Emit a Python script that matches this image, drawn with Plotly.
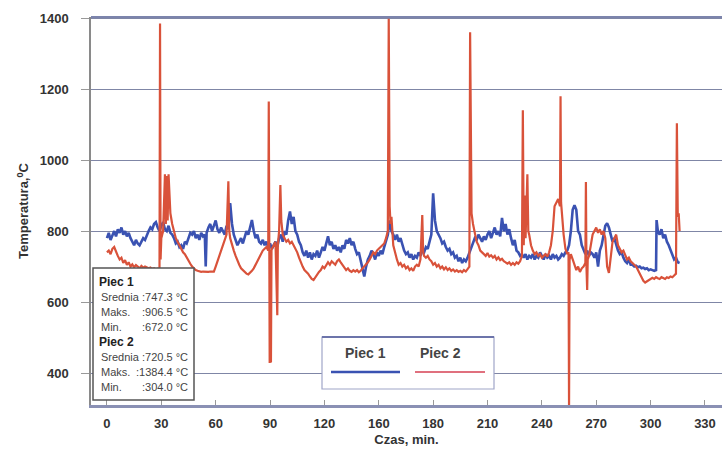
import plotly.graph_objects as go

# ---------------- data ----------------
p1_t = list(range(0, 55)) + [54.5] + list(range(55, 304)) + [303.3] + list(range(304, 317))
p1_t = sorted(p1_t)
p1_v = [780, 795, 775, 790, 800, 785, 805, 795, 810, 790, 800, 785, 795, 780, 770, 760, 775, 765, 760, 770,
        780, 775, 790, 800, 810, 805, 820, 825, 810, 800, 815, 825, 805, 800, 815, 795, 790, 780, 765, 770,
        755, 760, 750, 770, 765, 780, 795, 790, 800, 780, 790, 775, 795, 785, 790, 700, 795, 810, 820, 800,
        815, 830, 805, 795, 810, 800, 790, 815, 805, 879, 820, 790, 775, 760, 770, 780, 765, 785, 800, 790,
        810, 831, 800, 780, 790, 770, 765, 775, 760, 770, 755, 765, 750, 760, 770, 755, 780, 790, 770, 800,
        790, 830, 855, 820, 840, 800, 790, 770, 760, 740, 730, 745, 725, 740, 720, 735, 730, 745, 725, 740,
        755, 745, 770, 785, 760, 770, 750, 760, 745, 755, 740, 760, 750, 775, 765, 780, 760, 770, 750, 735,
        740, 720, 700, 672, 700, 720, 730, 745, 735, 720, 740, 730, 745, 735, 755, 770, 790, 830, 800, 790,
        775, 790, 770, 780, 760, 745, 735, 740, 725, 735, 720, 730, 725, 740, 730, 745, 740, 755, 750, 770,
        790, 906.5, 830, 800, 790, 780, 765, 770, 755, 745, 750, 735, 740, 725, 730, 715, 725, 710, 720, 715,
        725, 740, 755, 770, 780, 775, 790, 780, 770, 785, 775, 790, 800, 780, 795, 810, 790, 800, 785, 837,
        800, 820, 790, 805, 780, 760, 775, 745, 740, 730, 735, 725, 735, 720, 730, 725, 735, 720, 730, 725,
        740, 730, 720, 735, 725, 730, 720, 735, 725, 730, 720, 725, 735, 730, 740, 745, 760, 800, 860, 873,
        860, 800, 790, 760, 745, 735, 745, 730, 740, 735, 725, 740, 700, 745, 760, 790, 815, 822, 810, 790,
        770, 780, 760, 745, 735, 740, 725, 715, 710, 720, 705, 705, 700, 702, 698, 700, 695, 697, 693, 695,
        690, 692, 690, 688, 690, 831, 800, 790, 805, 780, 790, 770, 760, 745, 735, 720, 725, 712, 710]

p2_t = [0, 1, 2, 3, 4, 5, 6, 7, 8, 9, 10, 11, 12, 13, 14, 15, 16, 17, 18, 19, 20, 21, 22, 23, 24, 25, 26, 27, 28, 29,
        29.3, 29.6, 30, 31, 32, 32.5, 33, 33.5, 34, 35, 36, 37, 38, 39, 40, 41, 42, 43, 44, 45, 46, 47, 48, 49, 50,
        51, 52, 53, 54, 55, 56, 57, 58, 59, 60, 61, 62, 63, 64, 65, 66, 67, 67.5, 68, 69, 70, 71, 72, 73, 74, 75,
        76, 77, 78, 79, 80, 81, 82, 83, 84, 85, 86, 87, 88, 89, 89.3, 89.6, 89.8, 90.1, 90.5, 90.8, 91, 92, 93,
        94, 94.3, 95, 95.7, 96.2, 97, 98, 99, 100, 101, 102, 103, 104, 105, 106, 107, 108, 109, 110, 111, 112, 113,
        114, 115, 116, 117, 118, 119, 120, 121, 122, 123, 124, 125, 126, 127, 128, 129, 130, 131, 132, 133, 134,
        135, 136, 137, 138, 139, 140, 141, 142, 143, 144, 145, 146, 147, 148, 149, 150, 151, 152, 153, 154, 155,
        155.5, 156, 156.5, 157, 158, 159, 160, 161, 162, 163, 164, 165, 166, 167, 168, 169, 170, 171, 172, 173,
        174, 174.5, 175, 176, 177, 178, 179, 180, 181, 182, 183, 184, 185, 186, 187, 188, 189, 190, 191, 192, 193,
        194, 195, 196, 197, 198, 199, 200, 200.4, 200.8, 201.2, 202, 203, 204, 205, 206, 207, 208, 209, 210, 211,
        212, 213, 214, 215, 216, 217, 218, 219, 220, 221, 222, 223, 224, 225, 226, 227, 228, 229, 229.5, 230,
        230.5, 231, 232, 232.5, 233, 234, 235, 236, 237, 238, 239, 240, 241, 242, 243, 244, 245, 246, 247, 248,
        249, 250, 250.3, 250.6, 251, 252, 253, 254, 254.7, 255, 255.3, 256, 257, 258, 259, 260, 261, 262, 263,
        264, 264.3, 264.6, 265, 265.3, 266, 267, 268, 269, 270, 271, 272, 273, 274, 275, 276, 277, 278, 279, 280,
        281, 282, 283, 284, 285, 286, 287, 288, 289, 290, 291, 292, 293, 294, 295, 296, 297, 298, 299, 300, 301,
        302, 303, 304, 305, 306, 307, 308, 309, 310, 311, 312, 313, 314, 314.5, 315, 315.5, 316]
p2_v = [740, 745, 735, 750, 755, 740, 730, 720, 725, 710, 718, 705, 712, 700, 706, 698, 704, 700, 695, 702, 697,
        700, 698, 695, 697, 693, 695, 692, 694, 693,
        1384.4, 720, 780, 800, 960, 820, 955, 830, 960, 850, 820, 800, 780, 770, 760, 750, 740, 735, 725, 715,
        708, 700, 695, 690, 688, 686, 685, 686, 685, 684, 685, 686, 685, 686, 700, 715, 730, 745, 760, 775, 790,
        940, 800, 780, 760, 745, 730, 715, 705, 695, 690, 685, 680, 678, 682, 688, 695, 705, 715, 725, 735, 745,
        750, 755, 745, 1165, 750, 428, 740, 430, 745, 750, 760, 770,
        563, 760, 800, 930, 830, 790, 780, 770, 775, 765, 770, 760, 750, 740, 725, 710, 700, 690, 685, 680, 672,
        665, 662, 670, 678, 685, 690, 700, 695, 705, 712, 705, 715, 710, 705, 715, 720, 712, 705, 700, 690, 695,
        688, 685, 690, 686, 690, 684, 688, 695, 700, 705, 712, 720, 730, 740, 735, 745, 750, 755, 760, 765, 780,
        800, 1398, 870, 820, 840, 760, 735, 720, 705, 710, 700, 705, 695, 700, 690, 695, 688, 700, 705, 700, 720,
        845, 740, 730, 725, 730, 720, 715, 705, 710, 700, 705, 695, 700, 692, 698, 690, 695, 688, 692, 686, 690,
        685, 688, 684, 690, 686, 692, 700, 1360, 960, 850, 820, 790, 770, 760, 745, 740, 735, 730, 738, 728,
        732, 725, 730, 720, 726, 718, 722, 715, 712, 708, 712, 705, 710, 705, 712, 708, 715, 730, 1140, 760,
        900, 780, 960, 800, 790, 760, 745, 735, 740, 730, 735, 725, 730, 735, 728, 740, 760, 800, 870, 880,
        890, 870, 1180, 880, 850, 790, 750, 735, 740, 304, 720, 735, 720, 705, 690, 700, 685, 695, 700,
        710, 938, 700, 634, 720, 730, 760, 790, 800, 810, 795, 805, 790, 800, 780, 700, 682, 720, 770, 780,
        790, 760, 750, 740, 745, 730, 720, 725, 715, 710, 705, 700, 690, 680, 670, 660, 655, 658, 662, 665, 668,
        665, 670, 667, 665, 670, 668, 665, 670, 668, 672, 670, 675, 680, 1104, 840, 850, 800]

x_tickvals = [0, 30, 60, 90, 120, 150, 180, 210, 240, 270, 300, 330]
x_ticktext = ["0", "30", "60", "90", "120", "160", "180", "210", "240", "270", "300", "330"]
y_tickvals = [400, 600, 800, 1000, 1200, 1400]

series_names = ["Piec 1", "Piec 2"]
stats_labels = ["Srednia", "Maks.", "Min."]
stats_p1 = [":747.3 \u00b0C", ":906.5 \u00b0C", ":672.0 \u00b0C"]
stats_p2 = [":720.5 \u00b0C", ":1384.4 \u00b0C", ":304.0 \u00b0C"]

BLUE = "#3a52b2"
RED = "#d9523a"

# ---------------- layout helpers ----------------
W, H = 722, 452
ML, MR, MT, MB = 91, 0, 17, 47
PW, PH = W - ML - MR, H - MT - MB


def px(x):
    return (x - ML) / PW


def py(y):
    return (H - MB - y) / PH


fig = go.Figure()
fig.add_trace(go.Scatter(x=p1_t, y=p1_v, mode="lines", name=series_names[0],
                         line=dict(color=BLUE, width=2.6), showlegend=False))
fig.add_trace(go.Scatter(x=p2_t, y=p2_v, mode="lines", name=series_names[1],
                         line=dict(color=RED, width=2.2), showlegend=False))

font_main = "Liberation Sans, Arial, sans-serif"
font_narrow = "Liberation Sans Narrow, Arial Narrow, Liberation Sans, sans-serif"

fig.update_layout(
    width=W, height=H,
    margin=dict(l=ML, r=MR, t=MT, b=MB, pad=0),
    paper_bgcolor="white", plot_bgcolor="white",
    font=dict(family=font_main, color="#333333"),
    xaxis=dict(range=[-8.8, 339.4], tickvals=x_tickvals, ticktext=x_ticktext,
               showgrid=False, zeroline=False, showline=True, linecolor="#8a90b4", linewidth=3,
               ticks="inside", ticklen=5, tickcolor="#999999", tickwidth=1,
               tickfont=dict(size=13, family=font_main, color="#333333", weight="bold"),
               ticklabelstandoff=4,
               title=dict(text="Czas, min.", font=dict(size=13, color="#333333", weight="bold"), standoff=6)),
    yaxis=dict(range=[310, 1403], tickvals=y_tickvals,
               showgrid=True, gridcolor="#7f86a6", gridwidth=1.2, zeroline=False,
               showline=True, linecolor="#8a8a8a", linewidth=1.5,
               ticks="outside", ticklen=8, tickcolor="#999999", tickwidth=1,
               tickfont=dict(size=13, family=font_main, color="#333333", weight="bold"),
               ticklabelstandoff=10,
               title=dict(text="Temperatura,<sup>0</sup>C", font=dict(size=13, color="#333333", weight="bold"),
                          standoff=8)),
)

shapes = []
shapes.append(dict(type="line", xref="paper", yref="paper", x0=0, x1=1, y0=py(17), y1=py(17),
                   line=dict(color="#7c84ac", width=2), layer="above"))
shapes.append(dict(type="rect", xref="paper", yref="paper", x0=px(93), x1=px(194), y0=py(400), y1=py(268),
                   line=dict(color="#555555", width=1.5), fillcolor="white", layer="above"))
shapes.append(dict(type="rect", xref="paper", yref="paper", x0=px(322), x1=px(494), y0=py(389), y1=py(337),
                   line=dict(color="#a0a6c8", width=1.2), fillcolor="white", layer="above"))
shapes.append(dict(type="line", xref="paper", yref="paper", x0=px(322), x1=px(494), y0=py(337), y1=py(337),
                   line=dict(color="#6c74aa", width=2), layer="above"))
shapes.append(dict(type="line", xref="paper", yref="paper", x0=px(331), x1=px(400), y0=py(372), y1=py(372),
                   line=dict(color=BLUE, width=2.5), layer="above"))
shapes.append(dict(type="line", xref="paper", yref="paper", x0=px(415), x1=px(485), y0=py(372), y1=py(372),
                   line=dict(color="#e0707e", width=2), layer="above"))
fig.update_layout(shapes=shapes)

ann = []
ann.append(dict(text=series_names[0], x=px(365), y=py(353), xref="paper", yref="paper", showarrow=False,
                font=dict(size=14, color="#444444", weight="bold"), xanchor="center", yanchor="middle"))
ann.append(dict(text=series_names[1], x=px(440), y=py(353), xref="paper", yref="paper", showarrow=False,
                font=dict(size=14, color="#444444", weight="bold"), xanchor="center", yanchor="middle"))

rows_y = [282, 297, 312, 327, 342, 357, 372, 387]
blocks = [(series_names[0], stats_p1), (series_names[1], stats_p2)]
i = 0
for name, vals in blocks:
    ann.append(dict(text=name, x=px(97), y=py(rows_y[i]), xref="paper", yref="paper", showarrow=False,
                    font=dict(size=12, color="#222222", weight="bold", family=font_main),
                    xanchor="left", yanchor="middle"))
    i += 1
    for lab, v in zip(stats_labels, vals):
        ann.append(dict(text=lab, x=px(99), y=py(rows_y[i]), xref="paper", yref="paper", showarrow=False,
                        font=dict(size=11, color="#444444", family=font_narrow),
                        xanchor="left", yanchor="middle"))
        ann.append(dict(text=v, x=px(190), y=py(rows_y[i]), xref="paper", yref="paper", showarrow=False,
                        font=dict(size=11, color="#444444", family=font_narrow),
                        xanchor="right", yanchor="middle"))
        i += 1
fig.update_layout(annotations=ann)

fig.write_html("out.html")
